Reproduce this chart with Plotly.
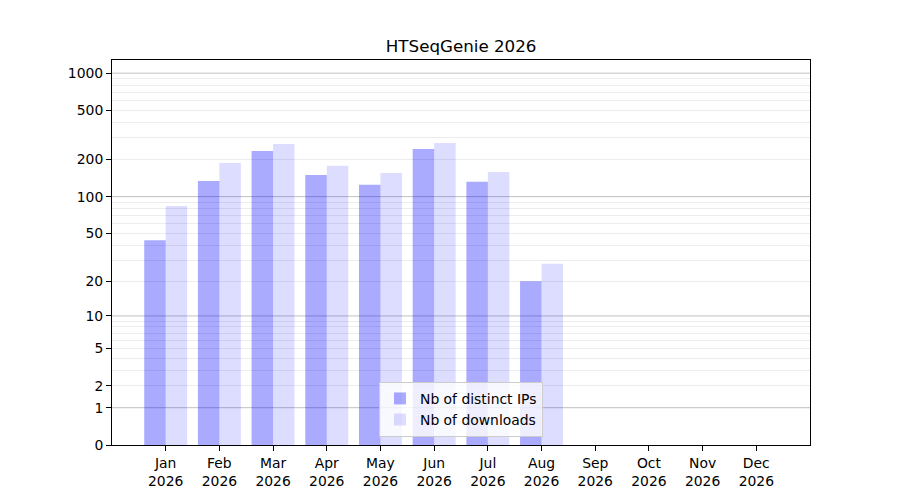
import numpy as np
import plotly.graph_objects as go

months = ["Jan", "Feb", "Mar", "Apr", "May", "Jun", "Jul", "Aug", "Sep", "Oct", "Nov", "Dec"]
year = "2026"
distinct_ips = [44, 134, 235, 150, 125, 244, 132, 20]
downloads = [84, 188, 268, 178, 156, 273, 159, 28]
tick_values = [0, 1, 2, 5, 10, 20, 50, 100, 200, 500, 1000]
major_grid_values = [1, 10, 100, 1000]
minor_grid_values = [v * m for m in (1, 10, 100) for v in range(2, 10)]


def tr(v):
    return np.log10(1 + np.asarray(v, dtype=float))


x_pos = list(range(len(months)))
font = "DejaVu Sans, Arial, sans-serif"
yrange = [0, 3.107]

fig = go.Figure()
fig.add_trace(go.Bar(
    x=x_pos[:len(distinct_ips)], y=tr(distinct_ips), width=0.4, offset=-0.4,
    marker=dict(color="rgba(0,0,255,0.333)", line=dict(width=0)),
    name="Nb of distinct IPs", customdata=distinct_ips,
    hovertemplate="%{customdata}<extra></extra>",
))
fig.add_trace(go.Bar(
    x=x_pos[:len(downloads)], y=tr(downloads), width=0.4, offset=0.0,
    marker=dict(color="rgba(0,0,255,0.133)", line=dict(width=0)),
    name="Nb of downloads", customdata=downloads,
    hovertemplate="%{customdata}<extra></extra>",
))

for gv in tr(major_grid_values):
    fig.add_hline(y=gv, line=dict(color="rgba(150,150,150,0.6)", width=1), layer="below")

fig.update_layout(
    width=892, height=492,
    margin=dict(l=104, r=90, t=52, b=55),
    plot_bgcolor="white", paper_bgcolor="white",
    font=dict(family=font, size=13.9, color="black"),
    title=dict(text="HTSeqGenie 2026", x=0.508, xanchor="center", y=0.9228, yanchor="middle",
               font=dict(size=16.7, family=font, color="black")),
    barmode="overlay",
    xaxis=dict(
        range=[-1, 12], tickmode="array", tickvals=x_pos,
        ticktext=[f"{m}<br>{year}" for m in months],
        showgrid=False, zeroline=False, showline=True, linecolor="black", linewidth=1,
        mirror=True, ticks="outside", ticklen=5, tickcolor="black",
        tickfont=dict(size=13.9),
    ),
    yaxis=dict(
        range=yrange, tickmode="array", tickvals=tr(tick_values),
        ticktext=[str(v) for v in tick_values],
        ticks="outside", ticklen=5, tickcolor="black", tickfont=dict(size=13.9),
        showgrid=False,
        minor=dict(tickmode="array", tickvals=tr(minor_grid_values), showgrid=True,
                   gridcolor="rgba(200,200,200,0.35)", gridwidth=1, ticks=""),
        zeroline=False, showline=True, linecolor="black", linewidth=1, mirror=True,
    ),
    legend=dict(
        x=0.5, xanchor="center", y=0.021, yanchor="bottom",
        bgcolor="rgba(255,255,255,0.8)", bordercolor="#cccccc", borderwidth=1,
        font=dict(size=13.9), tracegroupgap=0,
    ),
    showlegend=True,
)

fig.write_html("out.html")
